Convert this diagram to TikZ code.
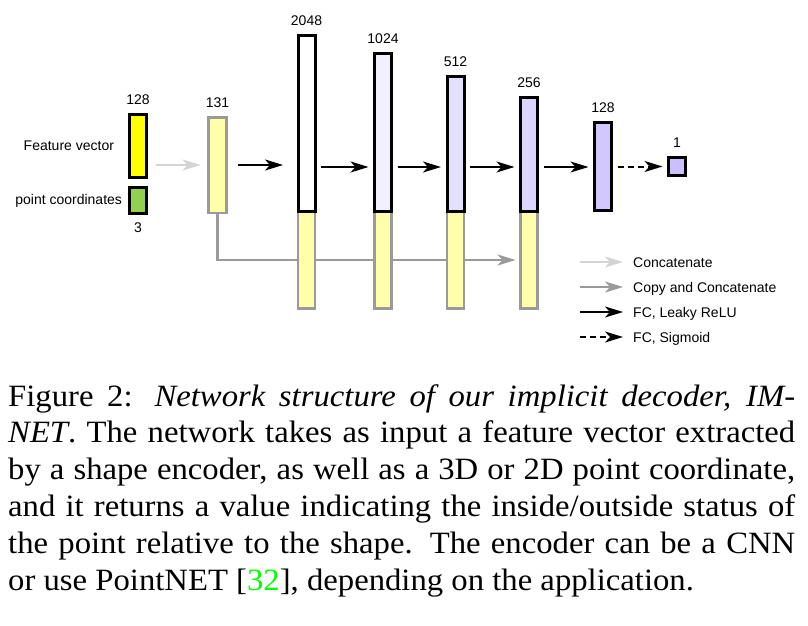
\documentclass[tikz,border=0pt]{standalone}
\usepackage{fontspec}
\setmainfont{Liberation Serif}
\newfontfamily\labelfont{Liberation Sans}
\newfontfamily\capfont[FakeStretch=1.055]{Liberation Serif}
\usepackage{xcolor}
\usetikzlibrary{arrows.meta,positioning,backgrounds}
\definecolor{featyellow}{HTML}{FFFF00}
\definecolor{ptgreen}{HTML}{92D050}
\definecolor{catyellow}{HTML}{FFFFAA}
\definecolor{catgray}{HTML}{9A9A9A}
\definecolor{lightgray}{HTML}{D4D4D4}
\definecolor{fcA}{HTML}{F0F0FF}
\definecolor{fcB}{HTML}{E4E0FF}
\definecolor{fcC}{HTML}{DCD4FF}
\definecolor{fcD}{HTML}{D2C8FF}
\definecolor{fcE}{HTML}{CBBFFF}
\definecolor{citegreen}{HTML}{00FF00}

\begin{document}
\begin{tikzpicture}[x=1pt,y=-1pt,
    box/.style={draw=black,line width=3pt,inner sep=0pt,outer sep=0pt,minimum width=17pt},
    catbox/.style={draw=catgray,fill=catyellow,line width=2.5pt,inner sep=0pt,outer sep=0pt,minimum width=17pt},
    num/.style={font=\labelfont\fontsize{14}{16}\selectfont},
    sz/.style={label={[num,yshift=6pt]above:#1}},
    legend/.style={num,anchor=west,inner sep=0pt,text height=10pt,text depth=0pt},
    head/.style={-{Stealth[length=18pt,width=11pt,inset=5pt]}},
    fcarrow/.style={head,line width=2pt,black,shorten <=6pt,shorten >=6pt},
    sigarrow/.style={fcarrow,dash pattern=on 6pt off 4pt},
    catarrow/.style={head,line width=2pt,lightgray},
    copyarrow/.style={head,line width=2.5pt,catgray}]
  \useasboundingbox (0,0) rectangle (808,626);
  \coordinate (mid) at (0,167);

  % inputs
  \node[box,fill=featyellow,minimum height=63pt,sz=128] (feat) at (138,146) {};
  \node[box,fill=ptgreen,minimum height=26pt,label={[num,yshift=-6pt]below:3}] (pt) at (138,200.5) {};
  \node[num,left=12pt of feat] (featlbl) {Feature vector};
  \node[num,left=4pt of pt] (ptlbl) {point coordinates};
  \node[catbox,minimum width=18pt,minimum height=95.5pt,sz=131] (in131) at (217.5,165) {};

  % copied part of each layer
  \node[catbox,minimum height=97pt,anchor=north] (cat1) at (306.5,211.5) {};
  \node[catbox,minimum height=97pt,anchor=north] (cat2) at (383,211.5) {};
  \node[catbox,minimum height=97pt,anchor=north] (cat3) at (455.5,211.5) {};
  \node[catbox,minimum height=97pt,anchor=north] (cat4) at (529,211.5) {};

  % fully connected layers
  \node[box,fill=white,minimum height=176pt,above=0pt of cat1,sz=2048] (fc1) {};
  \node[box,fill=fcA,minimum height=158pt,above=0pt of cat2,sz=1024] (fc2) {};
  \node[box,fill=fcB,minimum height=135pt,above=0pt of cat3,sz=512] (fc3) {};
  \node[box,fill=fcC,minimum height=114pt,above=0pt of cat4,sz=256] (fc4) {};
  \node[box,fill=fcD,minimum height=88pt,sz=128] (fc5) at (603,166.5) {};
  \node[box,fill=fcE,minimum height=18pt,sz=1] (out) at (677,166.5) {};

  \draw[catarrow,shorten <=9pt,shorten >=8pt] (feat.east |- in131.west) -- (in131.west);
  \draw[fcarrow,shorten <=11pt,shorten >=15pt] (in131.east) -- (fc1.west |- in131.east);
  \draw[fcarrow] (fc1.east |- mid) -- (fc2.west |- mid);
  \draw[fcarrow] (fc2.east |- mid) -- (fc3.west |- mid);
  \draw[fcarrow] (fc3.east |- mid) -- (fc4.west |- mid);
  \draw[fcarrow] (fc4.east |- mid) -- (fc5.west |- mid);
  \draw[sigarrow] (fc5.east) -- (out.west);
  \begin{scope}[on background layer]
    \draw[copyarrow,shorten >=5pt] (in131.south) |- (cat4.west);
  \end{scope}

  % legend
  \node[legend] (lgcat) at (633,262) {Concatenate};
  \node[legend] (lgcopy) at (633,287) {Copy and Concatenate};
  \node[legend] (lgfc) at (633,312) {FC, Leaky ReLU};
  \node[legend] (lgsig) at (633,337) {FC, Sigmoid};
  \draw[catarrow] ([xshift=-53pt]lgcat.west) -- ([xshift=-10pt]lgcat.west);
  \draw[copyarrow,line width=2pt] ([xshift=-53pt]lgcopy.west) -- ([xshift=-10pt]lgcopy.west);
  \draw[fcarrow,shorten <=0pt,shorten >=0pt] ([xshift=-53pt]lgfc.west) -- ([xshift=-10pt]lgfc.west);
  \draw[sigarrow,shorten <=0pt,shorten >=0pt] ([xshift=-53pt]lgsig.west) -- ([xshift=-10pt]lgsig.west);

  % caption
  \node[anchor=north west,inner sep=0pt,text width=787pt,align=justify,
        font=\capfont\fontsize{31}{36.8}\selectfont] (caption) at (8,384)
    {Figure 2: \textit{Network structure of our implicit decoder, IM-}\linebreak
     \textit{NET}. The network takes as input a feature vector extracted\linebreak
     by a shape encoder, as well as a 3D or 2D point coordinate,\linebreak
     and it returns a value indicating the inside/outside status of\linebreak
     the point relative to the shape. The encoder can be a CNN\linebreak
     or use PointNET [\textcolor{citegreen}{32}], depending on the application.};
\end{tikzpicture}
\end{document}
